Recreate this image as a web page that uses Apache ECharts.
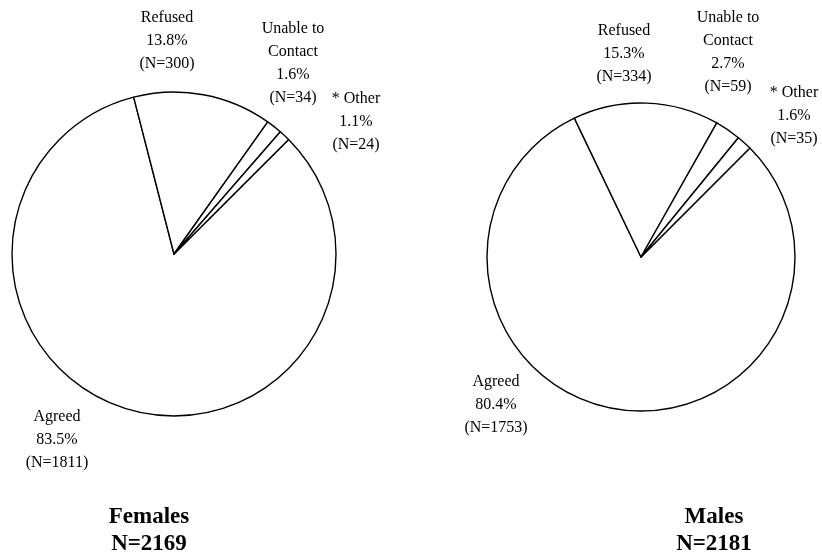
<!DOCTYPE html>
<head>
    <meta charset="utf-8">
    <title>Agreement by sex</title>
    <script src="https://cdn.jsdelivr.net/npm/echarts@6/dist/echarts.min.js"></script>
</head>
<body style="margin:0;background:#fff">
    <div id="main" style="width:822px;height:557px"></div>
    <script type="text/javascript">
        // categories and counts
        var categories = ['Agreed', 'Refused', 'Unable to\nContact', '* Other'];
        var females = [1811, 300, 34, 24];
        var males = [1753, 334, 59, 35];
        var groupTitles = ['Females\nN=2169', 'Males\nN=2181'];

        // where each label block sits: [centre x, first line centre y]
        var labelSpots = [
            [[57, 417], [167, 18], [293, 29], [356, 99]],
            [[496, 382], [624, 31], [728, 18], [794, 93]]
        ];

        var font = '"Liberation Serif", "Times New Roman", serif';

        function mkPie(vals, center, r, idx) {
            return {
                type: 'pie',
                center: center,
                radius: r,
                startAngle: 45,
                clockwise: true,
                percentPrecision: 1,
                avoidLabelOverlap: false,
                animation: false,
                silent: true,
                itemStyle: { color: '#fff', borderColor: '#000', borderWidth: 1.4 },
                label: {
                    show: true,
                    position: 'outside',
                    formatter: '{b}\n{d}%\n(N={c})',
                    fontFamily: font,
                    fontSize: 16,
                    lineHeight: 23,
                    color: '#000',
                    align: 'center'
                },
                labelLine: { show: false },
                labelLayout: function (params) {
                    var p = labelSpots[idx][params.dataIndex];
                    return { x: p[0], y: p[1] - 11.5, align: 'center', verticalAlign: 'top', hideOverlap: false };
                },
                emphasis: { disabled: true },
                data: categories.map(function (c, i) { return { name: c, value: vals[i] }; })
            };
        }

        var myChart = echarts.init(document.getElementById('main'));
        var option = {
            backgroundColor: '#fff',
            animation: false,
            title: [
                { text: groupTitles[0], left: 144, top: 499, textAlign: 'center',
                  textStyle: { fontFamily: font, fontSize: 23, fontWeight: 'bold', lineHeight: 27, color: '#000' } },
                { text: groupTitles[1], left: 709, top: 499, textAlign: 'center',
                  textStyle: { fontFamily: font, fontSize: 23, fontWeight: 'bold', lineHeight: 27, color: '#000' } }
            ],
            series: [
                mkPie(females, [174, 254], 162, 0),
                mkPie(males, [641, 257], 154, 1)
            ]
        };
        myChart.setOption(option);
    </script>
</body>
